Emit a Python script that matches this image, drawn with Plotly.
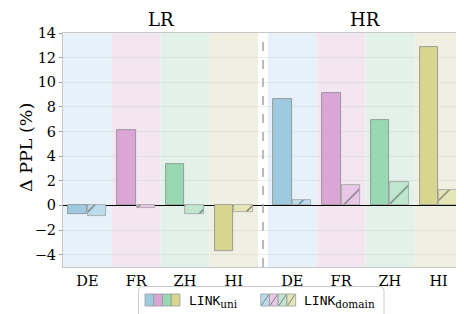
import plotly.graph_objects as go

groups = ["LR", "HR"]
languages = ["DE", "FR", "ZH", "HI"]
tick_labels = ["DE", "FR", "ZH", "HI", "DE", "FR", "ZH", "HI"]
link_uni = [-0.7, 6.1, 3.35, -3.7, 8.65, 9.15, 6.95, 12.85]
link_domain = [-0.85, -0.2, -0.72, -0.55, 0.47, 1.66, 1.88, 1.28]

uni_colors = ["#9ecae0", "#d9a6d6", "#98d8b2", "#d6d690"]
dom_colors = ["#bcdcec", "#e8c8e6", "#bfe6cf", "#e5e5b8"]
band_colors = ["#e7f1fa", "#f3e6f1", "#e2f2ea", "#f0f0e2"]

gap = 0.2
pos = [i for i in range(4)] + [i + 4 + gap for i in range(4)]
sep_x = 3.5 + gap / 2
xr = [-0.5, 7.5 + gap]

# page body has an 8px margin: size the figure so it lands on the 464x314 window
OFF = 8
W, H = 464 - OFF, 314 - OFF
L, R, T, B = 63 - OFF, 1, 33 - OFF, 47
PW, PH = W - L - R, H - T - B


def px(x):
    return (x - OFF - L) / PW


def py(y):
    return (H + OFF - B - y) / PH


fig = go.Figure()

fig.add_trace(go.Bar(
    x=[p - 0.2 for p in pos], y=link_uni, width=0.38,
    marker=dict(color=uni_colors * 2, line=dict(color="#8a8a8a", width=0.8)),
    showlegend=False,
))
fig.add_trace(go.Bar(
    x=[p + 0.2 for p in pos], y=link_domain, width=0.38,
    marker=dict(color=dom_colors * 2, line=dict(color="#a0a0a0", width=0.8),
                pattern=dict(shape="/", fillmode="overlay", fgcolor="#808080",
                             fgopacity=0.8, size=16, solidity=0.07)),
    showlegend=False,
))

shapes = []
for i, p in enumerate(pos):
    shapes.append(dict(type="rect", xref="x", yref="paper", x0=p - 0.5, x1=p + 0.5,
                       y0=0, y1=1, fillcolor=band_colors[i % 4], line_width=0, layer="below"))
shapes.append(dict(type="line", xref="x", yref="paper", x0=sep_x, x1=sep_x, y0=0, y1=1,
                   line=dict(color="#aaaaaa", width=1.6, dash="dash")))

# legend box
bx0, bx1, by0, by1, r = 138.5, 384, 286.5, 340, 4
rx, ry = r / PW, r / PH
X0, X1, Y0, Y1 = px(bx0), px(bx1), py(by1), py(by0)
path = (f"M {X0+rx},{Y1} L {X1-rx},{Y1} Q {X1},{Y1} {X1},{Y1-ry} L {X1},{Y0} "
        f"L {X0},{Y0} L {X0},{Y1-ry} Q {X0},{Y1} {X0+rx},{Y1} Z")
shapes.append(dict(type="path", xref="paper", yref="paper", path=path,
                   fillcolor="white", line=dict(color="#cccccc", width=1)))

sw = 8.75
for gx, cols, hatch in [(145, uni_colors, False), (260.7, dom_colors, True)]:
    for k, c in enumerate(cols):
        x0 = gx + k * sw
        shapes.append(dict(type="rect", xref="paper", yref="paper",
                           x0=px(x0), x1=px(x0 + sw), y0=py(306), y1=py(294),
                           fillcolor=c, line=dict(color="#999999", width=0.8)))
        if hatch:
            shapes.append(dict(type="line", xref="paper", yref="paper",
                               x0=px(x0 + 1), x1=px(x0 + sw - 1), y0=py(305), y1=py(295),
                               line=dict(color="#808080", width=1)))

annotations = [
    dict(text="LR", x=1.5, y=py(20), xref="x", yref="paper", showarrow=False,
         font=dict(size=18, family="DejaVu Serif", color="black"), yanchor="middle"),
    dict(text="HR", x=5.5 + gap, y=py(20), xref="x", yref="paper", showarrow=False,
         font=dict(size=18, family="DejaVu Serif", color="black"), yanchor="middle"),
    dict(text="Δ PPL (%)", x=px(26), y=py(148), xref="paper", yref="paper",
         textangle=-90, showarrow=False, xanchor="center", yanchor="middle",
         font=dict(size=17.5, family="DejaVu Serif", color="black")),
]
mono = "font-family:'DejaVu Sans Mono';font-size:13px"
for tx, sub in [(186.5, "uni"), (301.5, "domain")]:
    annotations.append(dict(
        text=f"<span style=\"{mono}\">LINK</span><sub>{sub}</sub>",
        x=px(tx), y=py(301), xref="paper", yref="paper", xanchor="left", yanchor="middle",
        showarrow=False, font=dict(size=15, family="DejaVu Serif", color="black")))

fig.update_layout(
    template="none",
    width=W, height=H, margin=dict(l=L, r=R, t=T, b=B, autoexpand=False),
    paper_bgcolor="white", plot_bgcolor="white",
    barmode="overlay", bargap=0,
    font=dict(family="DejaVu Serif", size=14, color="black"),
    shapes=shapes, annotations=annotations,
    xaxis=dict(range=xr, tickmode="array", tickvals=pos, ticktext=tick_labels,
               showgrid=False, zeroline=False, showline=True, mirror=True,
               linecolor="#c8c8c8", linewidth=1, ticks="", ticklabelstandoff=1,
               tickfont=dict(size=14.5), automargin=False),
    yaxis=dict(range=[-5, 14], dtick=2, showgrid=True, gridcolor="rgba(200,200,200,0.35)",
               gridwidth=1, zeroline=True, zerolinecolor="black", zerolinewidth=1.4,
               showline=True, mirror=True, linecolor="#c8c8c8", linewidth=1,
               ticks="outside", ticklen=3, tickcolor="#999999",
               tickfont=dict(size=14.5), automargin=False),
)

fig.write_html("out.html")
